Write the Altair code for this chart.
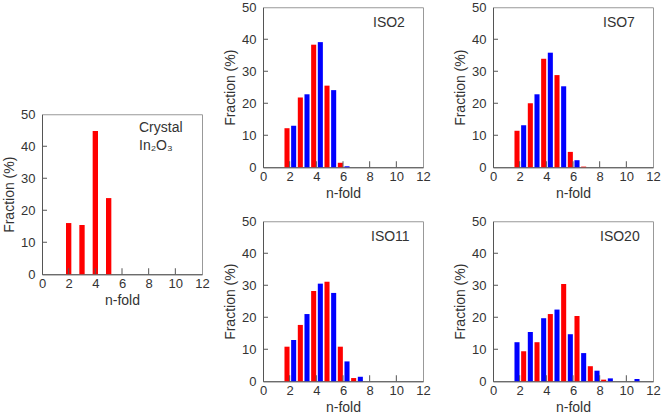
import altair as alt
import pandas as pd

# n-fold coordination numbers and axis ticks
n_fold = [2, 3, 4, 5, 6, 7, 8, 9, 10, 11]
x_ticks = [0, 2, 4, 6, 8, 10, 12]
y_ticks = [0, 10, 20, 30, 40, 50]

# Fraction (%) of In atoms at each coordination number, starting at n = 2
crystal = [16.0, 15.4, 44.8, 23.8]
iso2_red = [12.2, 21.8, 38.3, 25.5, 1.4]
iso2_blue = [13.0, 22.8, 39.1, 24.1, 0.3]
iso7_red = [11.4, 20.0, 33.9, 28.8, 4.8, 0.2]
iso7_blue = [13.1, 22.8, 35.8, 25.3, 2.2]
iso11_red = [10.8, 17.6, 28.2, 31.1, 10.8, 1.0]
iso11_blue = [12.9, 21.0, 30.5, 27.6, 6.2, 1.4]
iso20_blue = [12.2, 15.4, 19.7, 22.4, 14.7, 8.8, 3.3, 0.9, 0.0, 0.7]
iso20_red = [9.4, 12.2, 21.0, 30.4, 20.4, 4.7, 0.5]

FONT = "Liberation Sans"
INK = "#333333"
AXIS_GREY = "#555555"
PANEL = 160

# bar placement around each integer n (in n-fold units)
LEFT_SHIFT, RIGHT_SHIFT, HALF = -0.2, 0.3, 0.19
CRYSTAL_HALF = 0.2

x_scale = alt.Scale(domain=[0, 12], nice=False, zero=False)
y_scale = alt.Scale(domain=[0, 50], nice=False, zero=False)
color_scale = alt.Scale(domain=["red", "blue"], range=["#ff0000", "#0000ff"])

x_axis = alt.Axis(values=x_ticks, title="n-fold", labelFlush=False, ticks=False,
                  tickSize=0, labelPadding=3, titlePadding=3, grid=False)
y_axis = alt.Axis(values=y_ticks, title="Fraction (%)", ticks=False, tickSize=0,
                  labelPadding=7, titlePadding=4, grid=False)


def series(values, color, shift, half):
    ns = n_fold[:len(values)]
    return pd.DataFrame({
        "n": ns,
        "fraction": values,
        "color": color,
        "x0": [n + shift - half for n in ns],
        "x1": [n + shift + half for n in ns],
    })


def panel(frames, lines, label_x, label_y):
    data = pd.concat(frames, ignore_index=True)
    bars = alt.Chart(data).mark_rect().encode(
        x=alt.X("x0:Q", scale=x_scale, axis=x_axis),
        x2="x1:Q",
        y=alt.Y("fraction:Q", scale=y_scale, axis=y_axis),
        y2=alt.datum(0),
        color=alt.Color("color:N", scale=color_scale, legend=None),
    )
    # inward-pointing tick marks along the bottom and left axes
    x_tick_marks = alt.Chart(pd.DataFrame({"x0": x_ticks[1:-1]})).mark_rule(
        color=AXIS_GREY, strokeWidth=1
    ).encode(
        x=alt.X("x0:Q", scale=x_scale, axis=x_axis),
        y=alt.value(PANEL),
        y2=alt.value(PANEL - 6),
    )
    y_tick_marks = alt.Chart(pd.DataFrame({"fraction": y_ticks[1:-1]})).mark_rule(
        color=AXIS_GREY, strokeWidth=1
    ).encode(
        y=alt.Y("fraction:Q", scale=y_scale, axis=y_axis),
        x=alt.value(0),
        x2=alt.value(5),
    )
    texts = [
        alt.Chart(pd.DataFrame({"label": [line]})).mark_text(
            align="left", baseline="middle", font=FONT, fontSize=14, color=INK
        ).encode(
            text="label:N",
            x=alt.value(label_x),
            y=alt.value(label_y + 18 * i),
        )
        for i, line in enumerate(lines)
    ]
    return alt.layer(bars, x_tick_marks, y_tick_marks, *texts).properties(
        width=PANEL, height=PANEL
    )


crystal_panel = panel([series(crystal, "red", 0.0, CRYSTAL_HALF)],
                      ["Crystal", "In\u2082O\u2083"], 97, 14)
iso2 = panel([series(iso2_red, "red", LEFT_SHIFT, HALF),
              series(iso2_blue, "blue", RIGHT_SHIFT, HALF)], ["ISO2"], 110, 16)
iso7 = panel([series(iso7_red, "red", LEFT_SHIFT, HALF),
              series(iso7_blue, "blue", RIGHT_SHIFT, HALF)], ["ISO7"], 110, 16)
iso11 = panel([series(iso11_red, "red", LEFT_SHIFT, HALF),
               series(iso11_blue, "blue", RIGHT_SHIFT, HALF)], ["ISO11"], 108, 16)
iso20 = panel([series(iso20_blue, "blue", LEFT_SHIFT, HALF),
               series(iso20_red, "red", RIGHT_SHIFT, HALF)], ["ISO20"], 107, 16)

grid = alt.concat(iso2, iso7, iso11, iso20, columns=2,
                  spacing=alt.RowColnumber(row=54, column=70), bounds="flush")

chart = alt.hconcat(crystal_panel, grid, spacing=13, center=True).properties(
    padding={"left": 2, "top": 0, "right": 0, "bottom": 0},
    background="white",
).configure_view(
    stroke="#999999", strokeWidth=1
).configure_axis(
    labelFont=FONT, labelFontSize=13, labelColor=INK,
    titleFont=FONT, titleFontSize=14, titleFontWeight="normal", titleColor=INK,
    domainColor=AXIS_GREY, domainWidth=1,
)

chart.save("out.html", embed_options={"renderer": "svg", "actions": False})
